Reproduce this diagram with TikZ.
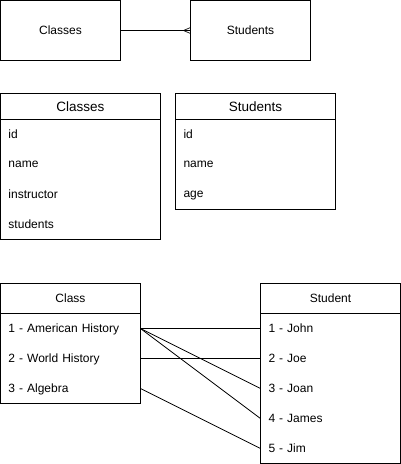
\documentclass[tikz,border=0pt]{standalone}
\usepackage{fontspec}
\setmainfont{Liberation Sans}
\usetikzlibrary{positioning}

\tikzset{
  entite/.style={draw,line width=1pt,minimum width=120pt,minimum height=60pt,inner sep=0pt,outer sep=0pt,font=\fontsize{12}{14}\selectfont},
  entete/.style={draw,line width=1pt,anchor=north west,inner sep=0pt,outer sep=0pt},
  ligne/.style={anchor=north west,minimum height=30pt,inner xsep=8pt,inner ysep=0pt,outer sep=0pt,text depth=0pt,align=left,font=\fontsize{12}{14}\selectfont},
  lien/.style={line width=0.8pt},
}

\begin{document}
\begin{tikzpicture}[x=1pt,y=-1pt]
  \useasboundingbox (0,0) rectangle (401,464);

  % entites
  \node[entite] (classes) at (60.5,30.5) {Classes};
  \node[entite] (students) at (250.5,30.5) {Students};
  \draw[lien] (classes.east) -- (students.west);
  \coordinate (pied) at ([xshift=-7pt]students.west);
  \draw[line width=0.7pt] ([yshift=3pt]students.west) -- (pied) -- ([yshift=-3pt]students.west);

  % tables
  \node[entete,minimum width=160pt,minimum height=26pt,font=\fontsize{13.5}{16}\selectfont] (tclasses) at (0.5,93.5) {Classes};
  \node[ligne,text width=144pt] (cid) at (tclasses.south west) {id};
  \node[ligne,text width=144pt] (cname) at (cid.south west) {name};
  \node[ligne,text width=144pt] (cinstr) at (cname.south west) {instructor};
  \node[ligne,text width=144pt] (cstud) at (cinstr.south west) {students};
  \draw[line width=1pt] (tclasses.north west) rectangle (cstud.south east);

  \node[entete,minimum width=160pt,minimum height=26pt,font=\fontsize{13.5}{16}\selectfont] (tstudents) at (175.5,93.5) {Students};
  \node[ligne,text width=144pt] (sid) at (tstudents.south west) {id};
  \node[ligne,text width=144pt] (sname) at (sid.south west) {name};
  \node[ligne,text width=144pt] (sage) at (sname.south west) {age};
  \draw[line width=1pt] (tstudents.north west) rectangle (sage.south east);

  % exemple
  \node[entete,minimum width=140pt,minimum height=30pt,font=\fontsize{12}{14}\selectfont] (tclass) at (0.5,283.5) {Class};
  \node[ligne,text width=124pt] (k1) at (tclass.south west) {1 - American History};
  \node[ligne,text width=124pt] (k2) at (k1.south west) {2 - World History};
  \node[ligne,text width=124pt] (k3) at (k2.south west) {3 - Algebra};
  \draw[line width=1pt] (tclass.north west) rectangle (k3.south east);

  \node[entete,minimum width=140pt,minimum height=30pt,font=\fontsize{12}{14}\selectfont] (tstudent) at (260.5,283.5) {Student};
  \node[ligne,text width=124pt] (e1) at (tstudent.south west) {1 - John};
  \node[ligne,text width=124pt] (e2) at (e1.south west) {2 - Joe};
  \node[ligne,text width=124pt] (e3) at (e2.south west) {3 - Joan};
  \node[ligne,text width=124pt] (e4) at (e3.south west) {4 - James};
  \node[ligne,text width=124pt] (e5) at (e4.south west) {5 - Jim};
  \draw[line width=1pt] (tstudent.north west) rectangle (e5.south east);

  \draw[lien] (k1.east) -- (e1.west);
  \draw[lien] (k1.east) -- (e3.west);
  \draw[lien] (k1.east) -- (e4.west);
  \draw[lien] (k2.east) -- (e2.west);
  \draw[lien] (k3.east) -- (e5.west);
\end{tikzpicture}
\end{document}
